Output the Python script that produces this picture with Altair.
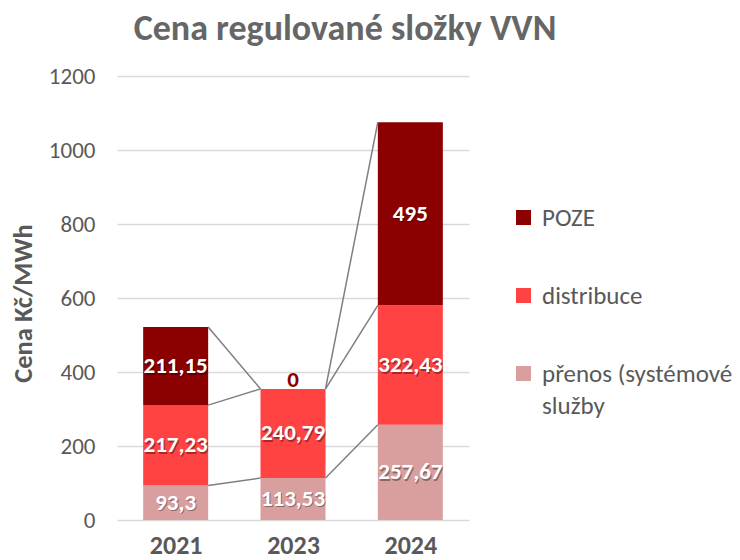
import altair as alt
import pandas as pd

years = ["2021", "2023", "2024"]
series = ["POZE", "distribuce", "přenos (systémové služby"]
prenos = [93.3, 113.53, 257.67]
distribuce = [217.23, 240.79, 322.43]
poze = [211.15, 0, 495]
colors = ["#8B0000", "#FF4343", "#D99E9E"]
y_ticks = [0, 200, 400, 600, 800, 1000, 1200]

FONT = "Carlito, Lato, sans-serif"
GRAY = "#595959"
HW = 0.277  # half bar width in band units

stack = [(series[2], prenos), (series[1], distribuce), (series[0], poze)]
rows = []
tops = {s: [] for s in series}
for i, yr in enumerate(years):
    base = 0.0
    for s, vals in stack:
        v = vals[i]
        rows.append(dict(year=yr, idx=i, x0=i - HW, x1=i + HW, series=s, value=v,
                         y0=base, y1=base + v, mid=base + v / 2,
                         label=f"{v:g}".replace(".", ",")))
        base += v
        tops[s].append(base)
df = pd.DataFrame(rows)

lines = []
for s in series:
    for i in range(len(years) - 1):
        lines.append(dict(series=s, xa=i + HW, xb=i + 1 - HW, ya=tops[s][i], yb=tops[s][i + 1]))
ldf = pd.DataFrame(lines)

xscale = alt.Scale(domain=[-0.5, len(years) - 0.5], nice=False, zero=False)
yscale = alt.Scale(domain=[0, 1200], nice=False)

x_axis = alt.Axis(values=list(range(len(years))),
                  labelExpr="[" + ",".join(f"'{y}'" for y in years) + "][datum.value]",
                  title=None, grid=False, domain=False, ticks=False,
                  labelFont=FONT, labelFontSize=26, labelFontWeight="bold",
                  labelColor=GRAY, labelPadding=33, labelBaseline="alphabetic")
y_axis = alt.Axis(values=y_ticks, format="d", title="Cena Kč/MWh", grid=True, gridColor="#d9d9d9",
                  gridWidth=1.5, domain=False, ticks=False,
                  labelFont=FONT, labelFontSize=23, labelColor=GRAY, labelPadding=22,
                  titleFont=FONT, titleFontSize=26.5, titleFontWeight="bold", titleColor=GRAY,
                  titleAngle=-90, titleX=-94, titleY=227, titleAlign="center",
                  titleBaseline="middle")

color = alt.Color("series:N", scale=alt.Scale(domain=series, range=colors),
                  legend=alt.Legend(title=None, orient="none", legendX=394, legendY=129,
                                    padding=0,
                                    symbolType="square", symbolSize=225, symbolStrokeWidth=0,
                                    labelFont=FONT, labelFontSize=25, labelColor=GRAY,
                                    labelLimit=400, rowPadding=52, labelOffset=6,
                                    labelExpr="datum.label == 'přenos (systémové služby' ? ['přenos (systémové', 'služby'] : datum.label"))

bars = alt.Chart(df).mark_bar(stroke=None).encode(
    x=alt.X("x0:Q", scale=xscale, axis=x_axis),
    x2="x1:Q",
    y=alt.Y("y0:Q", scale=yscale, axis=y_axis),
    y2="y1:Q",
    color=color,
)

slines = alt.Chart(ldf).mark_rule(color="#7f7f7f", strokeWidth=1.5).encode(
    x=alt.X("xa:Q", scale=xscale), x2="xb:Q",
    y=alt.Y("ya:Q", scale=yscale), y2="yb:Q",
)

pos = df[df.value > 0]
zero = df[df.value == 0]
shadow = alt.Chart(pos).mark_text(font=FONT, fontSize=23, fontWeight="bold", color="#000000",
                                  opacity=0.35, dx=1, dy=1.5).encode(
    x=alt.X("idx:Q", scale=xscale), y=alt.Y("mid:Q", scale=yscale), text="label:N")
labels = alt.Chart(pos).mark_text(font=FONT, fontSize=23, fontWeight="bold", color="white").encode(
    x=alt.X("idx:Q", scale=xscale), y=alt.Y("mid:Q", scale=yscale), text="label:N")
zlabels = alt.Chart(zero).mark_text(font=FONT, fontSize=23, fontWeight="bold", color=colors[0],
                                    dy=-9).encode(
    x=alt.X("idx:Q", scale=xscale), y=alt.Y("mid:Q", scale=yscale), text="label:N")

chart = alt.layer(bars, slines, shadow, labels, zlabels).properties(
    width=352, height=444,
    title=alt.TitleParams("Cena regulované složky VVN", font=FONT, fontSize=36,
                          fontWeight="bold", color="#666666", anchor="middle", dx=52, offset=17),
    autosize=alt.AutoSizeParams(type="none"),
    padding={"left": 109, "top": 68, "right": 263, "bottom": 40},
).configure(style={"guide-label": {"lineHeight": 32}}).configure_view(stroke=None)

chart.save("out.html", embed_options={"renderer": "svg", "actions": False})
